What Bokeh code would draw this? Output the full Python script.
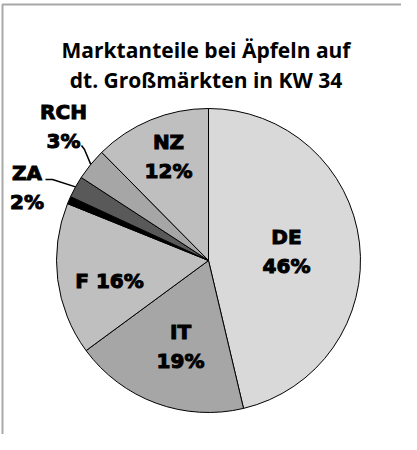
import math
from bokeh.plotting import figure
from bokeh.models import Range1d, ColumnDataSource
from bokeh.core.properties import value
from bokeh.embed import file_html
from bokeh.resources import INLINE

# ---- data ----
countries = ["DE", "IT", "F", "Sonstige", "ZA", "RCH", "NZ"]
shares = [46.3, 18.6, 16.2, 0.8, 2.3, 3.4, 12.4]
colors = ["#d9d9d9", "#a6a6a6", "#bfbfbf", "#000000", "#595959", "#a6a6a6", "#bfbfbf"]
title_lines = ["Marktanteile bei Äpfeln auf", "dt. Großmärkten in KW 34"]

# ---- layout (page pixels) ----
W, H = 401, 434
CX, CY, R = 216, 268, 152
label_center = {"DE": (294, 259), "IT": (188, 354), "F": (117, 288),
                "ZA": (34.5, 195), "RCH": (71, 134), "NZ": (176, 164)}
single_line = {"F"}
line_gap = 14.5
leader_start = {"RCH": [(89, 153), (92, 157)], "ZA": [(53, 187), (60, 187)]}
title_x, title_base = 213.5, [57, 87]

p = figure(width=W, height=H, output_backend="svg", toolbar_location=None,
           x_range=Range1d(8, 8 + W), y_range=Range1d(-(8 + H), -8),
           min_border=0, outline_line_color=None)
p.axis.visible = False
p.grid.visible = False

# frame
p.line([10, 10, 8 + W], [-(8 + H), -12, -12], line_color="#a8a8a8", line_width=2)

# wedges
total = sum(shares)
starts, ends, mids = [], [], []
cum = 0.0
for v in shares:
    a0 = math.pi / 2 - 2 * math.pi * cum / total
    cum += v
    a1 = math.pi / 2 - 2 * math.pi * cum / total
    starts.append(a0)
    ends.append(a1)
    mids.append((a0 + a1) / 2)
src = ColumnDataSource(dict(start=starts, end=ends, color=colors, name=countries))
p.wedge(x=CX, y=-CY, radius=R, start_angle="start", end_angle="end", direction="clock",
        fill_color="color", line_color="black", line_width=1, source=src)

# labels
nx, ny, nt = [], [], []
for name, v in zip(countries, shares):
    if name not in label_center:
        continue
    lx, ly = label_center[name]
    pct = f"{v:.0f}%"
    if name in single_line:
        nx.append(lx); ny.append(-ly); nt.append(f"{name} {pct}")
    else:
        nx.append(lx); ny.append(-(ly - line_gap)); nt.append(name)
        nx.append(lx); ny.append(-(ly + line_gap)); nt.append(pct)
p.text(x=nx, y=ny, text=nt, text_align="center", text_baseline="middle",
       text_font=value("DejaVu Sans"), text_font_style="bold", text_font_size="20px",
       text_color="black", text_outline_color="black")

# leader lines
xs, ys = [], []
for name, pts in leader_start.items():
    i = countries.index(name)
    ex = CX + R * math.cos(mids[i])
    ey = -CY + R * math.sin(mids[i])
    xs.append([pt[0] for pt in pts] + [ex])
    ys.append([-pt[1] for pt in pts] + [ey])
p.multi_line(xs=xs, ys=ys, line_color="black", line_width=1.5)

# title
p.text(x=[title_x] * len(title_lines), y=[-b for b in title_base], text=title_lines,
       text_align="center", text_baseline="alphabetic",
       text_font=value("Open Sans"), text_font_style="bold", text_font_size="21px",
       text_color="black")

open("out.html", "w").write(file_html(p, INLINE))
